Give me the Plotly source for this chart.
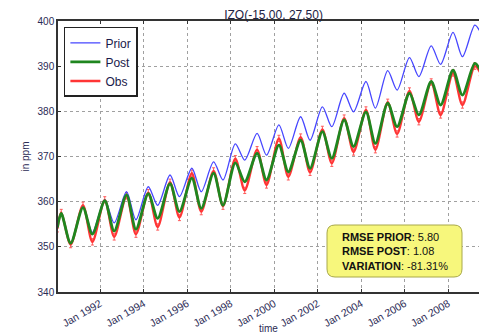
import plotly.graph_objects as go

# ---- data (annual seasonal maxima / minima, ppm) ----
years = list(range(1990, 2010))

prior_peak = [357.4, 358.8, 360.4, 362.2, 363.3, 365.9, 367.4, 368.8, 372.8, 375.1,
              377.0, 378.8, 381.0, 384.0, 386.6, 389.0, 391.9, 394.5, 397.5, 399.1]
prior_trough = [350.8, 353.2, 355.3, 356.0, 359.2, 361.1, 362.2, 364.8, 369.2, 370.3,
                371.8, 373.6, 376.6, 379.9, 380.7, 384.7, 387.7, 390.4, 392.1]

post_peak = [357.4, 358.7, 360.2, 361.5, 361.8, 364.0, 365.2, 366.3, 368.6, 370.7,
             372.5, 373.6, 375.5, 378.1, 379.9, 381.8, 384.0, 386.6, 389.1, 390.6]
post_trough = [350.8, 352.8, 353.5, 353.9, 356.3, 357.8, 358.5, 359.2, 364.4, 364.8,
               366.6, 367.4, 369.6, 372.2, 372.9, 376.6, 379.2, 381.4, 383.6]

obs_peak = [357.6, 359.2, 360.4, 361.3, 362.0, 364.3, 366.3, 366.8, 369.5, 371.5,
            374.0, 374.3, 376.0, 378.5, 380.3, 382.0, 384.5, 386.5, 388.5, 390.0]
obs_trough = [350.5, 351.1, 352.2, 352.8, 354.4, 356.5, 357.8, 359.0, 362.5, 363.7,
              365.5, 366.5, 368.5, 371.0, 371.5, 375.0, 377.7, 379.2, 381.4]

start_date, end_date = "1990-01-15", "2009-06-20"
prior_ends = [354.3, 397.6]
post_ends = [354.3, 389.2]
obs_ends = [354.0, 388.6]

stats_labels = ["RMSE PRIOR", "RMSE POST", "VARIATION"]
stats_values = ["5.80", "1.08", "-81.31%"]


def build(peaks, troughs, ends):
    xs, ys = [start_date], [ends[0]]
    for i, yr in enumerate(years):
        xs.append(f"{yr}-03-20")
        ys.append(peaks[i])
        if i < len(troughs):
            xs.append(f"{yr}-08-25")
            ys.append(troughs[i])
    xs.append(end_date)
    ys.append(ends[1])
    return xs, ys


FONT = "Liberation Sans, Arial, sans-serif"
TICKC = "#2b2b55"

fig = go.Figure()

ox, oy = build(obs_peak, obs_trough, obs_ends)
fig.add_trace(go.Scatter(
    x=ox, y=oy, name="Obs", legendrank=3, mode="lines",
    line=dict(color="#ff3535", width=2.4, shape="spline", smoothing=0.8),
    error_y=dict(type="constant", value=0.7, color="#ff5a5a", thickness=1, width=1.5),
))
px_, py_ = build(prior_peak, prior_trough, prior_ends)
fig.add_trace(go.Scatter(
    x=px_, y=py_, name="Prior", legendrank=1, mode="lines",
    line=dict(color="#4646ff", width=1.3, shape="spline", smoothing=0.8),
))
gx, gy = build(post_peak, post_trough, post_ends)
fig.add_trace(go.Scatter(
    x=gx, y=gy, name="Post", legendrank=2, mode="lines",
    line=dict(color="#1f861f", width=2.8, shape="spline", smoothing=0.8),
))

fig.update_layout(
    width=479, height=336,
    margin=dict(l=58, r=0, t=21, b=44),
    paper_bgcolor="white", plot_bgcolor="white",
    font=dict(family=FONT, size=11, color=TICKC),
    showlegend=True,
    legend=dict(
        x=0.014, y=0.978, xanchor="left", yanchor="top",
        bgcolor="white", bordercolor="#222222", borderwidth=1.5,
        font=dict(family=FONT, size=12, color="#1a1a4a"),
        traceorder="normal", itemwidth=30, tracegroupgap=0,
    ),
    title=dict(
        text="IZO(-15.00, 27.50)", x=0.512, xref="paper", xanchor="center",
        y=1, yref="paper", yanchor="bottom", pad=dict(b=2),
        font=dict(family=FONT, size=12, color="#222244"),
    ),
)

fig.update_xaxes(
    type="date", range=["1990-01-25", "2009-05-30"],
    tick0="1992-01-01", dtick="M24", tickformat="%b %Y", tickangle=-30,
    tickfont=dict(family=FONT, size=10.5, color=TICKC),
    showgrid=True, gridcolor="#a0a0a0", griddash="dot", gridwidth=1,
    showline=True, linecolor="#333333", linewidth=1.5, mirror="ticks",
    ticks="inside", ticklen=3, tickcolor="#333333",
    zeroline=False,
)
fig.update_yaxes(
    range=[340, 400], dtick=10,
    tickfont=dict(family=FONT, size=10, color=TICKC),
    showgrid=True, gridcolor="#a0a0a0", griddash="dot", gridwidth=1,
    showline=True, linecolor="#333333", linewidth=1.5, mirror=False,
    ticks="inside", ticklen=3, tickcolor="#333333",
    title=dict(text="in ppm", font=dict(family=FONT, size=10, color=TICKC), standoff=6),
    zeroline=False,
)

# x-axis label
fig.add_annotation(
    text="time", xref="paper", yref="paper", x=0.5, y=0, yshift=-36,
    xanchor="center", yanchor="middle", showarrow=False,
    font=dict(family=FONT, size=10, color=TICKC),
)

# rounded yellow stats box (pixel-sized shape anchored in paper coords)
w2, h2, r = 67.5, 26, 8
path = (f"M {-w2 + r},{-h2} L {w2 - r},{-h2} Q {w2},{-h2} {w2},{-h2 + r} "
        f"L {w2},{h2 - r} Q {w2},{h2} {w2 - r},{h2} L {-w2 + r},{h2} "
        f"Q {-w2},{h2} {-w2},{h2 - r} L {-w2},{-h2 + r} Q {-w2},{-h2} {-w2 + r},{-h2} Z")
cx = (394.5 - 58) / 421
cy = 1 - (251 - 21) / 271
fig.add_shape(
    type="path", xref="paper", yref="paper",
    xsizemode="pixel", ysizemode="pixel", xanchor=cx, yanchor=cy,
    path=path, fillcolor="#f7f77c", line=dict(color="#a8a84a", width=1), layer="above",
)
fig.add_annotation(
    text="<br>".join(f"<b>{l}</b>: {v}" for l, v in zip(stats_labels, stats_values)),
    xref="paper", yref="paper", x=(340 - 58) / 421, y=cy,
    xanchor="left", yanchor="middle", align="left", showarrow=False,
    font=dict(family=FONT, size=11, color="#111111"),
)

fig.write_html("out.html")
